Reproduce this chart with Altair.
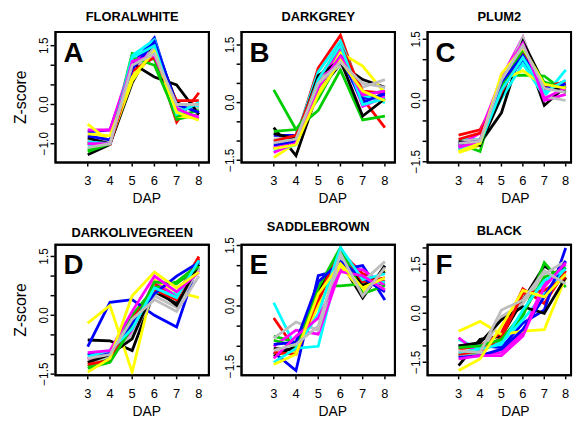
import altair as alt
import pandas as pd

DAP = [3, 4, 5, 6, 7, 8]
PALETTE = ["black", "red", "#00CD00", "blue", "cyan", "magenta", "yellow", "#BEBEBE"]
TITLES = ["FLORALWHITE", "DARKGREY", "PLUM2", "DARKOLIVEGREEN", "SADDLEBROWN", "BLACK"]
LETTERS = ["A", "B", "C", "D", "E", "F"]

floralwhite = [
    [-1.28, -1.02, 0.55, 1.55, 0.05, -0.20],
    [-0.95, -1.00, 0.95, 1.30, -0.45, 0.30],
    [-1.15, -1.00, 1.30, 1.15, -0.38, -0.25],
    [-0.70, -0.65, 1.00, 1.70, -0.10, 0.00],
    [-1.05, -1.00, 1.25, 1.65, -0.15, -0.05],
    [-0.65, -0.65, 1.10, 1.35, -0.20, -0.30],
    [-0.50, -0.95, 0.60, 1.38, -0.30, -0.35],
    [-0.90, -0.95, 0.80, 1.45, -0.05, -0.10],
    [-0.85, -1.00, 1.05, 0.70, 0.50, -0.25],
    [-1.00, -1.02, 0.85, 1.20, 0.10, 0.10],
    [-1.20, -1.00, 1.20, 1.00, -0.30, -0.15],
    [-0.80, -0.90, 0.90, 1.60, 0.00, -0.20],
    [-0.95, -1.00, 1.20, 1.50, -0.25, 0.05],
    [-1.00, -1.00, 1.10, 1.25, -0.10, -0.35],
    [-0.75, -0.80, 0.70, 1.35, -0.20, -0.40],
    [-1.10, -1.00, 1.00, 1.30, 0.00, 0.00],
]
darkgrey = [
    [-0.65, -1.38, 0.30, 1.00, 0.60, 0.40],
    [-1.20, -0.95, 0.90, 1.75, 0.10, -0.65],
    [0.33, -0.70, -0.20, 0.85, -0.45, -0.35],
    [-0.85, -0.85, 0.60, 1.30, 0.10, 0.20],
    [-1.00, -0.90, 0.80, 1.60, 0.20, 0.00],
    [-1.15, -1.00, 0.50, 1.40, -0.10, 0.15],
    [-1.43, -1.05, 0.30, 1.30, 0.95, 0.25],
    [-0.95, -0.90, 0.60, 0.95, 0.40, 0.60],
    [-0.80, -0.95, 0.70, 1.10, -0.35, 0.10],
    [-1.00, -0.85, 0.60, 1.50, 0.30, 0.25],
    [-0.75, -0.70, 0.10, 1.15, 0.20, 0.30],
    [-1.10, -1.00, 0.40, 1.20, 0.00, 0.25],
    [-1.25, -1.10, 0.60, 1.50, -0.05, 0.10],
    [-1.30, -1.05, 0.40, 1.20, 0.20, 0.30],
    [-1.20, -1.10, 0.20, 1.10, 0.30, 0.05],
    [-1.05, -0.95, 0.50, 1.05, 0.50, 0.40],
]
plum2 = [
    [-1.10, -1.05, -0.30, 1.35, -0.12, 0.35],
    [-0.85, -0.72, 0.30, 1.30, 0.30, 0.40],
    [-1.05, -1.25, 0.60, 0.62, 0.60, 0.20],
    [-1.15, -1.00, 0.30, 1.00, 0.25, 0.30],
    [-0.95, -0.95, 0.05, 0.90, 0.10, 0.75],
    [-1.10, -0.80, 0.55, 1.55, 0.00, 0.15],
    [-1.28, -1.10, 0.50, 0.73, 0.35, 0.35],
    [-1.00, -0.95, 0.40, 1.55, 0.10, 0.00],
    [-1.00, -1.10, 0.10, 1.45, 0.40, 0.20],
    [-0.95, -0.80, 0.20, 1.20, 0.35, 0.45],
    [-1.20, -1.05, 0.35, 1.25, 0.45, 0.30],
    [-1.05, -1.00, 0.45, 1.10, 0.30, 0.40],
    [-1.20, -1.05, 0.25, 1.05, 0.20, 0.50],
    [-1.15, -1.00, 0.60, 1.40, 0.05, 0.30],
    [-1.25, -1.05, 0.65, 1.30, 0.40, 0.30],
    [-1.05, -1.00, 0.50, 1.35, 0.30, 0.20],
]
darkolivegreen = [
    [-0.63, -0.65, -0.90, 0.60, 0.30, 1.20],
    [-1.10, -1.05, -0.30, 0.80, 0.50, 1.50],
    [-1.30, -1.10, 0.00, 0.70, 0.85, 1.30],
    [-0.80, 0.33, 0.40, 0.00, -0.30, 1.40],
    [-1.00, -0.90, -0.20, 0.60, 0.55, 1.35],
    [-1.10, -1.00, -0.40, 0.90, 0.45, 1.15],
    [-0.20, 0.25, -1.45, 0.90, 0.60, 0.45],
    [-1.20, -1.05, -0.50, 0.50, 0.20, 1.20],
    [-1.20, -1.00, -0.60, 0.70, 0.25, 1.30],
    [-1.25, -1.15, -0.10, 0.65, 0.40, 1.45],
    [-1.35, -1.20, -0.30, 0.85, 0.80, 1.25],
    [-1.00, -0.95, -0.20, 0.55, 1.00, 1.35],
    [-1.05, -0.90, -0.35, 0.70, 0.45, 1.40],
    [-0.95, -0.90, 0.10, 1.00, 0.60, 1.10],
    [-1.45, -1.10, 0.50, 1.10, 0.70, 1.10],
    [-1.10, -1.00, -0.10, 0.40, 0.10, 1.00],
]
saddlebrown = [
    [-1.05, -1.10, 0.30, 1.10, 0.20, 1.00],
    [-0.30, -1.10, 0.10, 1.35, 0.80, 0.60],
    [-0.75, -0.90, 0.50, 0.50, 0.55, 0.55],
    [-1.15, -1.60, 0.75, 0.90, 1.00, 0.15],
    [0.08, -1.05, -1.00, 1.20, 0.50, 0.60],
    [-1.00, -0.60, -0.70, 0.90, 0.90, 0.50],
    [-1.20, -1.15, 0.00, 1.00, 0.35, 0.90],
    [-0.80, -0.40, -0.60, 1.20, 0.60, 1.10],
    [-1.25, -1.00, 0.40, 1.30, 0.50, 0.85],
    [-1.15, -1.20, 0.20, 1.40, 0.60, 0.70],
    [-0.85, -1.00, 0.45, 1.45, 0.30, 0.50],
    [-0.95, -0.90, 0.60, 1.10, 0.70, 0.35],
    [-1.40, -1.05, -0.20, 1.45, 0.65, 0.80],
    [-1.30, -0.75, -0.30, 0.85, 0.75, 0.40],
    [-1.45, -1.20, 0.30, 1.05, 0.45, 0.70],
    [-1.10, -0.95, -0.50, 1.30, 0.25, 0.95],
]
black = [
    [-1.60, -0.80, -0.70, 0.40, 1.45, 1.00],
    [-1.10, -1.00, -0.60, 0.75, 0.30, 1.30],
    [-1.30, -1.20, -0.80, -0.10, 1.55, 0.80],
    [-1.00, -1.00, -1.05, -0.30, 0.10, 2.00],
    [-0.80, -1.10, -0.90, -0.20, 0.60, 1.40],
    [-0.75, -1.25, -1.20, -0.60, 0.90, 1.50],
    [-0.55, -0.25, -0.65, -0.55, -0.50, 1.10],
    [-1.30, -1.30, -0.10, 0.30, 1.20, 1.60],
    [-1.00, -0.90, -0.20, 0.20, 0.00, 1.10],
    [-1.25, -1.15, -0.75, 0.60, 0.70, 1.10],
    [-1.05, -1.00, -0.80, 0.00, 1.10, 1.40],
    [-1.35, -1.30, -1.10, -0.50, 0.50, 1.60],
    [-1.20, -1.10, -0.95, 0.10, 1.00, 1.35],
    [-1.40, -1.30, -1.30, -0.70, 0.80, 1.55],
    [-1.75, -1.40, -0.40, 0.70, 0.50, 1.20],
    [-1.15, -1.20, 0.10, 0.40, 1.30, 0.90],
]

MODULES = [floralwhite, darkgrey, plum2, darkolivegreen, saddlebrown, black]

Y_DOMAINS = [[-1.48, 1.85], [-1.56, 1.84], [-1.52, 1.68],
             [-1.53, 1.80], [-1.72, 1.52], [-1.90, 2.10]]
Y_TICKS = [[-1.0, -0.5, 0.0, 0.5, 1.0, 1.5],
           [-1.5, -1.0, -0.5, 0.0, 0.5, 1.0, 1.5],
           [-1.5, -1.0, -0.5, 0.0, 0.5, 1.0, 1.5],
           [-1.5, -1.0, -0.5, 0.0, 0.5, 1.0, 1.5],
           [-1.5, -1.0, -0.5, 0.0, 0.5, 1.0, 1.5],
           [-1.5, -1.0, -0.5, 0.0, 0.5, 1.0, 1.5, 2.0]]
Y_LABELS = [[-1.0, 0.0, 1.5], [-1.5, 0.0, 1.5], [-1.5, 0.0, 1.5],
            [-1.5, 0.0, 1.5], [-1.5, 0.0, 1.5], [-1.5, 0.0, 1.5]]
TITLE_OFFSETS = [4, 4, 4, 1, 3, 3]
XLAB_CENTER = 5.65  # where the "DAP" label sits along the x scale

FONT = "Liberation Sans"
H = 132


def fmt(v):
    return f"{v:.1f}".replace("-", "\u2212")


def panel(i):
    rows = []
    for j, vals in enumerate(MODULES[i]):
        for d, v in zip(DAP, vals):
            rows.append({"line": j, "DAP": d, "z": v, "col": PALETTE[j % 8]})
    df = pd.DataFrame(rows)
    col = i % 3
    if col == 2:
        xdom, w = [1.55, 8.25], 145
    else:
        xdom, w = [1.55, 8.45], 155
    ydom = Y_DOMAINS[i]
    xscale = alt.Scale(domain=xdom, nice=False, zero=False)
    yscale = alt.Scale(domain=ydom, nice=False, zero=False)

    def X(field="DAP:Q"):
        return alt.X(field, scale=xscale, axis=None)

    def Y(field="z:Q"):
        return alt.Y(field, scale=yscale, axis=None)

    lines = alt.Chart(df).mark_line(strokeWidth=2.8).encode(
        x=X(), y=Y(),
        color=alt.Color("col:N", scale=None),
        detail="line:N",
    )
    frame_df = pd.DataFrame({
        "k": [0, 1, 2, 3, 4],
        "DAP": [xdom[0], xdom[1], xdom[1], xdom[0], xdom[0]],
        "z": [ydom[0], ydom[0], ydom[1], ydom[1], ydom[0]],
    })
    frame = alt.Chart(frame_df).mark_line(
        color="black", strokeWidth=2, strokeJoin="miter", strokeCap="square"
    ).encode(x=X(), y=Y(), order=alt.Order("k:Q"))

    xt_df = pd.DataFrame({"DAP": DAP, "lab": [str(d) for d in DAP]})
    xticks = alt.Chart(xt_df).mark_rule(color="black", strokeWidth=1.5).encode(
        x=X(), y=alt.value(H + 1), y2=alt.value(H + 4))
    xlabels = alt.Chart(xt_df).mark_text(
        fontSize=13, font=FONT, color="black", align="center", baseline="middle"
    ).encode(x=X(), y=alt.value(H + 19), text="lab:N")
    xpix = (XLAB_CENTER - xdom[0]) / (xdom[1] - xdom[0]) * w
    one = pd.DataFrame({"t": [LETTERS[i]], "xt": ["DAP"], "yt": ["Z-score"]})
    xtitle = alt.Chart(one).mark_text(
        fontSize=14, font=FONT, color="black", align="center", baseline="middle"
    ).encode(x=alt.value(xpix), y=alt.value(H + 37), text="xt:N")

    yt_df = pd.DataFrame({"z": Y_TICKS[i]})
    yticks = alt.Chart(yt_df).mark_rule(color="black", strokeWidth=1.5).encode(
        y=Y(), x=alt.value(-5), x2=alt.value(-1))
    yl_df = pd.DataFrame({"z": Y_LABELS[i], "lab": [fmt(v) for v in Y_LABELS[i]]})
    ylabels = alt.Chart(yl_df).mark_text(
        fontSize=12, font=FONT, color="black", align="center", baseline="middle",
        angle=270,
    ).encode(y=Y(), x=alt.value(-12), text="lab:N")

    letter = alt.Chart(one).mark_text(
        fontSize=28, fontWeight="bold", font=FONT, align="left",
        baseline="alphabetic", color="black",
    ).encode(x=alt.value(8), y=alt.value(30), text="t:N")

    layers = [lines, frame, xticks, xlabels, xtitle, yticks, ylabels, letter]
    if col == 0:
        ytitle = alt.Chart(one).mark_text(
            fontSize=16, font=FONT, color="black", align="center",
            baseline="middle", angle=270,
        ).encode(x=alt.value(-35), y=alt.value(H / 2), text="yt:N")
        layers.append(ytitle)
    return alt.layer(*layers).properties(
        width=w, height=H,
        title=alt.TitleParams(TITLES[i], fontSize=13, fontWeight="bold", font=FONT,
                              color="black", anchor="middle", frame="group",
                              offset=TITLE_OFFSETS[i]),
    )


chart = alt.concat(*[panel(i) for i in range(6)], columns=3,
                   spacing={"row": 83, "column": 33}, bounds="flush").properties(
    padding={"left": 4, "top": 0, "right": 0, "bottom": 0}
).configure(background="white").configure_view(stroke="black", strokeWidth=2)

chart.save("out.html", embed_options={"renderer": "svg", "actions": False})
